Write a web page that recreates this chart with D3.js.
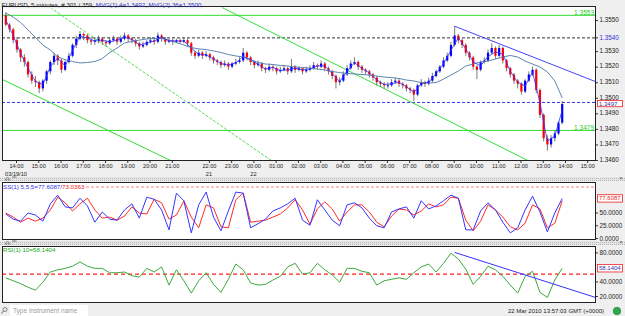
<!DOCTYPE html>
<html>
<head>
<meta charset="utf-8">
<script src="https://cdn.jsdelivr.net/npm/d3@7/dist/d3.min.js"></script>
<style>
  body { margin: 0; background: #efefef; overflow: hidden; }
  svg text { font-family: "Liberation Sans", Arial, sans-serif; }
</style>
</head>
<body>
<svg id="chart" width="625" height="316"></svg>
<script>
// EURUSD bars, Fri 19 Mar 13:30 -> Mon 22 Mar 13:50 (weekend closed), open = previous close
var firstOpen = 1.3553;
var closes = [
  1.3547,1.3544,1.3537,1.3531,1.3526,1.3523,1.3515,1.3511,1.3510,1.3506,
  1.3511,1.3517,1.3523,1.3527,1.3524,1.3518,1.3523,1.3527,1.3534,1.3538,
  1.3541,1.3540,1.3537,1.3536,1.3537,1.3538,1.3536,1.3535,1.3537,1.3538,
  1.3536,1.3538,1.3540,1.3538,1.3537,1.3535,1.3533,1.3534,1.3536,1.3537,
  1.3536,1.3540,1.3538,1.3536,1.3537,1.3536,1.3537,1.3536,1.3537,1.3535,
  1.3529,
  1.3527,1.3529,1.3527,1.3528,1.3526,1.3524,1.3523,1.3521,1.3522,1.3520,
  1.3522,1.3523,1.3524,1.3529,1.3526,1.3523,1.3521,1.3522,1.3519,1.3518,
  1.3520,1.3519,1.3517,1.3518,1.3519,1.3517,1.3520,1.3518,1.3519,
  1.3517,1.3518,1.3519,1.3521,1.3520,1.3522,1.3519,1.3517,1.3514,1.3510,
  1.3511,1.3515,1.3519,1.3522,1.3523,1.3520,1.3518,1.3517,1.3515,1.3513,
  1.3510,1.3509,1.3508,1.3508,1.3510,1.3511,1.3509,1.3508,1.3506,1.3505,
  1.3502,1.3508,1.3510,1.3509,1.3511,1.3514,1.3517,1.3520,1.3524,1.3527,
  1.3534,1.3540,1.3537,1.3534,1.3529,1.3526,1.3520,1.3518,1.3523,1.3524,
  1.3529,1.3532,1.3527,1.3532,1.3524,1.3519,1.3515,1.3511,1.3509,1.3504,
  1.3511,1.3515,1.3518,1.3505,1.3489,1.3474,1.3470,1.3474,1.3477,1.3484,
  1.3496
];
var highs = [
  1.3555,1.3548,1.3545,1.3539,1.3532,1.3528,1.3524,1.3517,1.3514,1.3511,
  1.3512,1.3518,1.3524,1.3529,1.3528,1.3525,1.3524,1.3529,1.3535,1.3540,
  1.3543,1.3542,1.3541,1.3539,1.3539,1.3540,1.3539,1.3537,1.3539,1.3540,
  1.3539,1.3540,1.3542,1.3541,1.3539,1.3538,1.3536,1.3536,1.3537,1.3539,
  1.3538,1.3542,1.3541,1.3539,1.3538,1.3538,1.3538,1.3538,1.3539,1.3538,
  1.3536,
  1.3530,1.3531,1.3530,1.3530,1.3529,1.3527,1.3525,1.3524,1.3524,1.3523,
  1.3523,1.3525,1.3526,1.3532,1.3530,1.3527,1.3524,1.3524,1.3523,1.3520,
  1.3522,1.3521,1.3520,1.3520,1.3521,1.3520,1.3525,1.3521,1.3520,
  1.3519,1.3520,1.3521,1.3523,1.3522,1.3524,1.3523,1.3520,1.3518,1.3515,
  1.3513,1.3517,1.3521,1.3524,1.3526,1.3524,1.3521,1.3519,1.3518,1.3516,
  1.3514,1.3511,1.3510,1.3510,1.3512,1.3513,1.3512,1.3510,1.3509,1.3507,
  1.3506,1.3509,1.3512,1.3511,1.3513,1.3516,1.3518,1.3521,1.3526,1.3529,
  1.3536,1.3546,1.3541,1.3538,1.3535,1.3530,1.3527,1.3521,1.3524,1.3526,
  1.3531,1.3535,1.3533,1.3534,1.3533,1.3525,1.3520,1.3516,1.3512,1.3510,
  1.3512,1.3517,1.3520,1.3519,1.3506,1.3490,1.3476,1.3476,1.3479,1.3485,
  1.3498
];
var lows = [
  1.3546,1.3542,1.3535,1.3529,1.3523,1.3520,1.3513,1.3509,1.3507,1.3503,
  1.3504,1.3509,1.3515,1.3521,1.3521,1.3516,1.3517,1.3522,1.3526,1.3532,
  1.3537,1.3537,1.3535,1.3534,1.3534,1.3535,1.3534,1.3533,1.3534,1.3536,
  1.3534,1.3535,1.3537,1.3536,1.3535,1.3533,1.3531,1.3532,1.3533,1.3535,
  1.3534,1.3535,1.3536,1.3534,1.3535,1.3534,1.3535,1.3535,1.3535,1.3533,
  1.3527,
  1.3525,1.3526,1.3525,1.3526,1.3524,1.3522,1.3521,1.3519,1.3520,1.3518,
  1.3519,1.3521,1.3522,1.3523,1.3524,1.3521,1.3519,1.3520,1.3517,1.3516,
  1.3517,1.3517,1.3515,1.3516,1.3517,1.3515,1.3516,1.3516,1.3517,
  1.3515,1.3516,1.3517,1.3518,1.3518,1.3519,1.3517,1.3515,1.3512,1.3506,
  1.3508,1.3510,1.3514,1.3518,1.3521,1.3518,1.3516,1.3515,1.3513,1.3511,
  1.3508,1.3507,1.3506,1.3506,1.3507,1.3509,1.3507,1.3506,1.3504,1.3503,
  1.3498,1.3501,1.3507,1.3507,1.3508,1.3510,1.3513,1.3516,1.3519,1.3523,
  1.3526,1.3533,1.3535,1.3532,1.3527,1.3524,1.3518,1.3512,1.3517,1.3522,
  1.3523,1.3528,1.3525,1.3526,1.3522,1.3517,1.3513,1.3509,1.3506,1.3502,
  1.3503,1.3510,1.3514,1.3503,1.3487,1.3472,1.3466,1.3468,1.3472,1.3476,
  1.3483
];

// indicators, one value every second bar (bars 0, 2, 4 ... 150)
var ma4 = [
  1.3550,1.3540,1.35285,1.3519,1.35105,1.35085,1.3520,1.35255,1.35205,1.35305,
  1.35395,1.35385,1.35365,1.3537,1.3536,1.3537,1.3539,1.35375,1.3534,1.3535,
  1.35365,1.3539,1.35365,1.35365,1.35365,1.3532,1.3528,1.35275,1.3525,1.3522,
  1.3521,1.35225,1.35265,1.35245,1.35215,1.35185,1.35195,1.35175,1.3518,1.3519,
  1.3518,1.35185,1.35205,1.35205,1.35155,1.35105,1.3517,1.35225,1.3519,1.3516,
  1.35115,1.35085,1.3509,1.3510,1.3507,1.35035,1.3509,1.3510,1.35155,1.3522,
  1.35305,1.35385,1.35315,1.3523,1.35205,1.35265,1.35295,1.3528,1.3517,1.3510,
  1.35075,1.35165,1.3497,1.3472,1.34755,1.3492
];
var ma36 = [
  1.35545,1.35519,1.35484,1.35436,1.35387,1.35339,1.35307,1.35262,1.35245,1.35233,
  1.35224,1.35227,1.35233,1.35252,1.35291,1.35320,1.35352,1.35362,1.35371,1.35378,
  1.35381,1.35381,1.35371,1.35355,1.35339,1.35323,1.35314,1.35310,1.35301,1.35291,
  1.35278,1.35269,1.35262,1.35243,1.35227,1.35217,1.35214,1.35208,1.35204,1.35198,
  1.35195,1.35191,1.35185,1.35179,1.35169,1.35162,1.35156,1.35153,1.35150,1.35146,
  1.35140,1.35133,1.35130,1.35124,1.35114,1.35108,1.35098,1.35095,1.35098,1.35120,
  1.35146,1.35172,1.35204,1.35217,1.35230,1.35236,1.35249,1.35262,1.35272,1.35262,
  1.35236,1.35217,1.35198,1.35166,1.35108,1.35000
];
var stochK = [
  47,37,33,49,45,33,67,84,61,59, 78,63,31,51,37,35,55,67,39,80,
  76,55,16,88,73,10,65,90,41,14, 53,90,88,20,28,37,53,59,67,78,
  35,25,75,55,35,24,65,69,59,39, 24,20,51,57,61,39,73,57,63,73,
  84,78,16,16,53,69,55,31,10,20, 55,82,51,12,49,77.6087
];
var stochD = [
  49,41,31,39,33,39,55,80,69,53, 67,78,55,39,41,35,43,61,49,47,
  76,69,37,45,73,41,20,65,59,22, 20,75,88,31,33,35,41,47,59,75,
  55,27,57,71,57,33,51,65,65,51, 31,22,43,57,55,45,53,67,61,65,
  80,78,35,14,33,65,55,41,22,16, 29,65,57,20,29,73.0363
];
var rsi = [
  45,41,37,32,28,39,53,56,58,61, 67,61,58,58,52,52,53,48,46,58,
  53,60,35,56,41,24,41,52,36,25, 43,64,56,38,35,36,42,47,60,65,
  50,52,65,56,49,39,58,58,54,52, 35,41,43,45,43,52,60,64,53,65,
  79,71,57,36,47,61,56,47,35,24, 47,54,25,18,42,58.1404
];

var hourLabels = ["14:00","15:00","16:00","17:00","18:00","19:00","20:00","21:00",
  "22:00","23:00","00:00","01:00","02:00","03:00","04:00","05:00","06:00","07:00",
  "08:00","09:00","10:00","11:00","12:00","13:00","14:00","15:00"];
var hourBars = [3,9,15,21,27,33,39,45,55,61,67,73,79,85,91,97,103,109,115,121,127,133,139,145,151,157];
var dateLabels = ["03/19/10", "21", "22"];
var dateBars = [3, 55, 67];

var priceTicks = [1.3460,1.3470,1.3480,1.3490,1.3500,1.3510,1.3520,1.3530,1.3550];
var stochTicks = [0, 25, 50];
var rsiTicks = [20, 40, 80];

// horizontal levels on the price chart
var greenLevels = [1.3553, 1.3479];
var dashedLevel = 1.35385, dashedLevelLabel = "1.3540";
var lastPrice = 1.3497;

// trend lines as [bar, value] pairs
var greenTrends = [[[-2, 1.3513], [45, 1.3459]], [[58.3, 1.3558], [141.3, 1.3459]]];
var greenDotted = [[12, 1.3558], [72, 1.3459]];
var blueTrend = [[121, 1.3546], [159.4, 1.3510]];
var rsiTrend = [[121, 80], [159.4, 17.3]];

var plotL = 2, plotR = 596;
var mainTop = 6, mainBot = 161;
var stoTop = 182, stoBot = 240;
var rsiTop = 246, rsiBot = 303;

var svg = d3.select("#chart");
var defs = svg.append("defs");

var pat = defs.append("pattern").attr("id", "hatch").attr("width", 2).attr("height", 2)
    .attr("patternUnits", "userSpaceOnUse");
pat.append("rect").attr("width", 2).attr("height", 2).attr("fill", "#e6e6e6");
pat.append("rect").attr("width", 1).attr("height", 1).attr("fill", "#b5b5b5");

function clip(id, y0, y1) {
    defs.append("clipPath").attr("id", id).append("rect")
        .attr("x", plotL).attr("y", y0).attr("width", plotR - plotL).attr("height", y1 - y0);
}
clip("cMain", mainTop, mainBot);
clip("cSto", stoTop, stoBot);
clip("cRsi", rsiTop, rsiBot);

// scales
var x = d3.scaleLinear().domain([3, 151]).range([16, 565]);
function xb(i) { return x(i + 0.25); }
var yMain = d3.scaleLinear().domain([1.3460, 1.3550]).range([160, 20]);
var ySto = d3.scaleLinear().domain([0, 100]).range([238, 187]);
var yRsi = d3.scaleLinear().domain([20, 80]).range([296, 252.4]);

// splitter bands
svg.append("rect").attr("x", 0).attr("y", 177).attr("width", 625).attr("height", 4).attr("fill", "url(#hatch)");
svg.append("rect").attr("x", 0).attr("y", 241).attr("width", 625).attr("height", 4).attr("fill", "url(#hatch)");

// panel backgrounds
[[mainTop, mainBot], [stoTop, stoBot], [rsiTop, rsiBot]].forEach(function(p) {
    svg.append("rect").attr("x", plotL).attr("y", p[0]).attr("width", plotR - plotL)
        .attr("height", p[1] - p[0]).attr("fill", "#fff");
});

// ---------- main price panel ----------
var gMain = svg.append("g").attr("clip-path", "url(#cMain)");

greenLevels.forEach(function(p) {
    gMain.append("line").attr("x1", plotL).attr("x2", plotR)
        .attr("y1", yMain(p)).attr("y2", yMain(p))
        .attr("stroke", "#33dd33").attr("stroke-width", 1);
});
gMain.append("line").attr("x1", plotL).attr("x2", plotR)
    .attr("y1", yMain(dashedLevel)).attr("y2", yMain(dashedLevel))
    .attr("stroke", "#333").attr("stroke-dasharray", "3,2");
gMain.append("line").attr("x1", plotL).attr("x2", plotR)
    .attr("y1", yMain(lastPrice)).attr("y2", yMain(lastPrice))
    .attr("stroke", "#3333ee").attr("stroke-dasharray", "3,2");

var trendLine = d3.line().x(function(d) { return x(d[0] + 0.25); });
greenTrends.forEach(function(t) {
    gMain.append("path").attr("d", trendLine.y(function(d) { return yMain(d[1]); })(t))
        .attr("fill", "none").attr("stroke", "#33dd33").attr("stroke-width", 1);
});
gMain.append("path").attr("d", trendLine.y(function(d) { return yMain(d[1]); })(greenDotted))
    .attr("fill", "none").attr("stroke", "#55dd55").attr("stroke-width", 1)
    .attr("stroke-dasharray", "3,1.5");
gMain.append("path").attr("d", trendLine.y(function(d) { return yMain(d[1]); })(blueTrend))
    .attr("fill", "none").attr("stroke", "#4444ff").attr("stroke-width", 1);

var bars = closes.map(function(c, i) {
    return {i: i, o: i ? closes[i - 1] : firstOpen, h: highs[i], l: lows[i], c: c};
});

gMain.selectAll(".wick").data(bars).enter().append("line")
    .attr("x1", function(d) { return xb(d.i); })
    .attr("x2", function(d) { return xb(d.i); })
    .attr("y1", function(d) { return yMain(d.h); })
    .attr("y2", function(d) { return yMain(d.l); })
    .attr("stroke", "#555").attr("stroke-width", 0.8);

gMain.selectAll(".body").data(bars).enter().append("rect")
    .attr("x", function(d) { return xb(d.i) - 1.1; })
    .attr("width", 2.2)
    .attr("y", function(d) { return yMain(Math.max(d.o, d.c)); })
    .attr("height", function(d) { return Math.max(1, Math.abs(yMain(d.o) - yMain(d.c))); })
    .attr("fill", function(d) { return d.c >= d.o ? "#0000ff" : "#ff0000"; });

var sampleBars = d3.range(0, closes.length, 2);
function seriesLine(vals, y) {
    return d3.line().x(function(d, k) { return xb(sampleBars[k]); }).y(function(d) { return y(d); })(vals);
}
gMain.append("path").attr("d", seriesLine(ma36, yMain))
    .attr("fill", "none").attr("stroke", "#5b84b1").attr("stroke-width", 1);
gMain.append("path").attr("d", seriesLine(ma4, yMain))
    .attr("fill", "none").attr("stroke", "#3030ff").attr("stroke-width", 0.8);

// level labels inside the chart
greenLevels.forEach(function(p) {
    svg.append("text").attr("x", 594).attr("y", yMain(p) - 0.5).attr("text-anchor", "end")
        .style("font-size", "6.5px").attr("fill", "#22cc22").text(d3.format(".4f")(p));
});

// ---------- stochastic panel ----------
var gSto = svg.append("g").attr("clip-path", "url(#cSto)");
gSto.append("line").attr("x1", 86).attr("x2", plotR).attr("y1", ySto(100)).attr("y2", ySto(100))
    .attr("stroke", "#ff8080").attr("stroke-dasharray", "3,2");
gSto.append("path").attr("d", seriesLine(stochD, ySto))
    .attr("fill", "none").attr("stroke", "#ff2a2a").attr("stroke-width", 1);
gSto.append("path").attr("d", seriesLine(stochK, ySto))
    .attr("fill", "none").attr("stroke", "#3535ff").attr("stroke-width", 1);

// ---------- RSI panel ----------
var gRsi = svg.append("g").attr("clip-path", "url(#cRsi)");
gRsi.append("line").attr("x1", plotL).attr("x2", plotR).attr("y1", yRsi(50)).attr("y2", yRsi(50))
    .attr("stroke", "#ff2020").attr("stroke-width", 1.2).attr("stroke-dasharray", "4,3");
gRsi.append("path").attr("d", seriesLine(rsi, yRsi))
    .attr("fill", "none").attr("stroke", "#3caa3c").attr("stroke-width", 1);
gRsi.append("path").attr("d", trendLine.y(function(d) { return yRsi(d[1]); })(rsiTrend))
    .attr("fill", "none").attr("stroke", "#3333ff").attr("stroke-width", 1);

// panel borders
[[mainTop, mainBot], [stoTop, stoBot], [rsiTop, rsiBot]].forEach(function(p) {
    svg.append("rect").attr("x", plotL + 0.5).attr("y", p[0] + 0.5).attr("width", plotR - plotL - 1)
        .attr("height", p[1] - p[0] - 1).attr("fill", "none").attr("stroke", "#222");
});

// ---------- axes ----------
function rightAxis(scale, ticks, fmt, dy) {
    var g = svg.append("g").attr("transform", "translate(" + plotR + ",0)")
        .call(d3.axisRight(scale).tickValues(ticks).tickFormat(fmt).tickSize(2).tickPadding(1.5));
    g.select(".domain").remove();
    g.selectAll("line").attr("stroke", "#333");
    g.selectAll("text").style("font-size", "6.3px").attr("fill", "#222").attr("dy", dy);
    return g;
}
rightAxis(yMain, priceTicks, d3.format(".4f"), "0.2em");
rightAxis(ySto, stochTicks, d3.format(".4f"), "0.32em");
rightAxis(yRsi, rsiTicks, d3.format(".4f"), "0.32em");

// blue level label on the axis
svg.append("line").attr("x1", plotR).attr("x2", plotR + 2)
    .attr("y1", yMain(dashedLevel)).attr("y2", yMain(dashedLevel)).attr("stroke", "#333");
svg.append("text").attr("x", plotR + 3.5).attr("y", yMain(dashedLevel)).attr("dy", "0.32em")
    .style("font-size", "6.3px").attr("fill", "#3333dd").text(dashedLevelLabel);

function valueBox(y, label, col, h) {
    svg.append("rect").attr("x", plotR + 1.5).attr("y", y - h / 2).attr("width", 25).attr("height", h)
        .attr("fill", "#fff").attr("stroke", "#ee2222").attr("stroke-width", 0.8);
    svg.append("text").attr("x", plotR + 3).attr("y", y).attr("dy", "0.33em")
        .style("font-size", "6px").attr("fill", col).text(label);
}
valueBox(yMain(lastPrice) + 1.2, d3.format(".4f")(lastPrice), "#3333aa", 6.2);
valueBox(ySto(stochK[stochK.length - 1]), d3.format(".4f")(stochK[stochK.length - 1]), "#ee2222", 7.4);
valueBox(yRsi(rsi[rsi.length - 1]), d3.format(".4f")(rsi[rsi.length - 1]), "#3333aa", 7.4);

// time axis
var gx = svg.append("g").attr("transform", "translate(0," + mainBot + ")")
    .call(d3.axisBottom(x).tickValues(hourBars).tickFormat(function(d, i) { return hourLabels[i]; })
        .tickSize(2).tickPadding(1));
gx.select(".domain").remove();
gx.selectAll("line").attr("stroke", "#333");
gx.selectAll("text").style("font-size", "5.6px").attr("fill", "#222");

dateLabels.forEach(function(t, i) {
    var tx = svg.append("text").attr("y", 175.5).attr("text-anchor", "middle")
        .style("font-size", "5.6px").attr("fill", "#222").text(t);
    var w = tx.node().getComputedTextLength();
    tx.attr("x", Math.max(w / 2, x(dateBars[i])));
});

// ---------- titles ----------
var title = svg.append("text").attr("x", 1.5).attr("y", 7).style("font-size", "6.2px");
title.append("tspan").attr("fill", "#222").text("EURUSD, 5 minutes, # 301 / 359, ");
title.append("tspan").attr("fill", "#3333cc").text("MVG(1) 4=1.3492, MVG(2) 36=1.3500");
var tw = title.node().getComputedTextLength();
svg.insert("rect", "text").attr("x", 0).attr("y", 0).attr("width", tw + 3).attr("height", 8.5).attr("fill", "#efefef");

var stoTitle = svg.append("text").attr("x", 3).attr("y", 188.5).style("font-size", "6.2px");
stoTitle.append("tspan").attr("fill", "#3333dd").text("SS(1) 5,5,5=77.6087/");
stoTitle.append("tspan").attr("fill", "#ee2222").text("73.0363");

svg.append("text").attr("x", 3).attr("y", 251.5).style("font-size", "6.2px")
    .attr("fill", "#22aa22").text("RSI(1) 10=58.1404");

// small panel icons
[179, 243].forEach(function(yy) {
    svg.append("path").attr("d", "M5," + (yy + 1) + "L7.5," + (yy - 2) + "L10," + (yy + 1) + "Z")
        .attr("fill", "none").attr("stroke", "#555").attr("stroke-width", 0.6);
    svg.append("line").attr("x1", 12).attr("x2", 16.5).attr("y1", yy - 2).attr("y2", yy - 2)
        .attr("stroke", "#555").attr("stroke-width", 0.8);
    svg.append("text").attr("x", 621).attr("y", yy + 0.5).attr("text-anchor", "middle")
        .style("font-size", "6px").attr("fill", "#555").text("×");
});

// ---------- status bar ----------
svg.append("rect").attr("x", 10).attr("y", 305).attr("width", 78).attr("height", 11).attr("fill", "#fff");
svg.append("circle").attr("cx", 5).attr("cy", 309.5).attr("r", 2).attr("fill", "none").attr("stroke", "#666").attr("stroke-width", 0.8);
svg.append("line").attr("x1", 3.5).attr("x2", 1.5).attr("y1", 311).attr("y2", 313.5).attr("stroke", "#666").attr("stroke-width", 1);
svg.append("text").attr("x", 13).attr("y", 313).style("font-size", "6.5px").attr("fill", "#9a9a9a")
    .text("Type instrument name");
svg.append("text").attr("x", 508).attr("y", 313).style("font-size", "6px").attr("fill", "#222")
    .text("22 Mar 2010 13:57:03 GMT (+0000)");
svg.append("circle").attr("cx", 617).attr("cy", 311).attr("r", 3.8).attr("fill", "#2fa84a").attr("stroke", "#1d7a33").attr("stroke-width", 0.6);
</script>
</body>
</html>
